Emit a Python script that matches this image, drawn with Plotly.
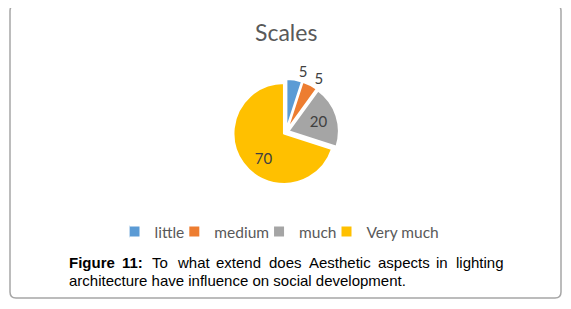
import plotly.graph_objects as go

# page body has an 8px default margin; figure is sized to fit the window
OFF = 8
W, H = 571 - OFF, 309 - OFF

categories = ["little", "medium", "much", "Very much"]
values = [5, 5, 20, 70]
colors = ["#5B9BD5", "#ED7D31", "#A5A5A5", "#FFC000"]

title_text = "Scales"
caption_line1 = ["<b>Figure</b>", "<b>11:</b>", "To", "what", "extend", "does",
                 "Aesthetic", "aspects", "in", "lighting"]
caption_line1_x = [67, 120.4, 149.7, 174.8, 214.1, 266.7, 306.8, 376.1, 433.5, 506]
caption_line2 = "architecture have influence on social development."


def px(x):
    return (x - OFF) / W


def py(y):
    return 1 - (y - OFF) / H


label_font = dict(family="Lato", size=15, color="#404040")
cx, cy, side = 286, 132, 106
domain = dict(x=[px(cx - side / 2), px(cx + side / 2)],
              y=[py(cy + side / 2), py(cy - side / 2)])

fig = go.Figure()
fig.add_trace(go.Pie(
    labels=categories,
    values=values,
    sort=False,
    direction="clockwise",
    rotation=0,
    marker=dict(colors=colors, line=dict(color="white", width=2)),
    pull=[0.05, 0.05, 0.05, 0.05],
    texttemplate=["%{value}", "%{value}", "%{value}", "\u00a0<br>%{value}"],
    textposition=["outside", "none", "inside", "inside"],
    insidetextorientation="horizontal",
    textfont=label_font,
    outsidetextfont=label_font,
    insidetextfont=label_font,
    domain=domain,
    hoverinfo="skip",
))
# transparent twin carrying the second outside label (avoids label scooting)
fig.add_trace(go.Pie(
    labels=categories,
    values=values,
    sort=False,
    direction="clockwise",
    rotation=0,
    marker=dict(colors=["rgba(0,0,0,0)"] * 4, line=dict(width=0)),
    pull=[0.05, 0.05, 0.05, 0.05],
    textinfo="value",
    textposition=["none", "outside", "none", "none"],
    textfont=label_font,
    outsidetextfont=label_font,
    domain=domain,
    hoverinfo="skip",
    showlegend=False,
))

annotations = [
    dict(text=title_text, x=px(286), y=py(32), xref="paper", yref="paper",
         xanchor="center", yanchor="middle", showarrow=False,
         font=dict(family="Lato", size=23, color="#595959")),
]
for i, (w, xx) in enumerate(zip(caption_line1, caption_line1_x)):
    annotations.append(dict(
        text=w, x=px(xx), y=py(262), xref="paper", yref="paper",
        xanchor="right" if i == len(caption_line1) - 1 else "left",
        yanchor="middle", showarrow=False,
        font=dict(family="Liberation Sans", size=15, color="#000000")))
annotations.append(dict(
    text=caption_line2, x=px(67), y=py(280), xref="paper", yref="paper",
    xanchor="left", yanchor="middle", showarrow=False,
    font=dict(family="Liberation Sans", size=15, color="#000000")))

# rounded border
x0, y0, x1, y1, r = px(10), py(298), px(561), py(5), 6
rx, ry = r / W, r / H
path = (f"M {x0+rx},{y1} L {x1-rx},{y1} Q {x1},{y1} {x1},{y1-ry} "
        f"L {x1},{y0+ry} Q {x1},{y0} {x1-rx},{y0} L {x0+rx},{y0} "
        f"Q {x0},{y0} {x0},{y0+ry} L {x0},{y1-ry} Q {x0},{y1} {x0+rx},{y1} Z")

fig.update_layout(
    width=W, height=H,
    margin=dict(l=0, r=0, t=0, b=0),
    paper_bgcolor="white",
    plot_bgcolor="white",
    showlegend=True,
    legend=dict(orientation="h", x=px(287), xanchor="center",
                y=py(232), yanchor="middle",
                font=dict(family="Lato", size=15.5, color="#595959"),
                indentation=-15, itemwidth=30, traceorder="normal",
                bgcolor="rgba(0,0,0,0)"),
    annotations=annotations,
    shapes=[dict(type="path", path=path, xref="paper", yref="paper",
                 line=dict(color="#A6A6A6", width=1.5), layer="below")],
)

fig.write_html("out.html", config={"displayModeBar": False})
